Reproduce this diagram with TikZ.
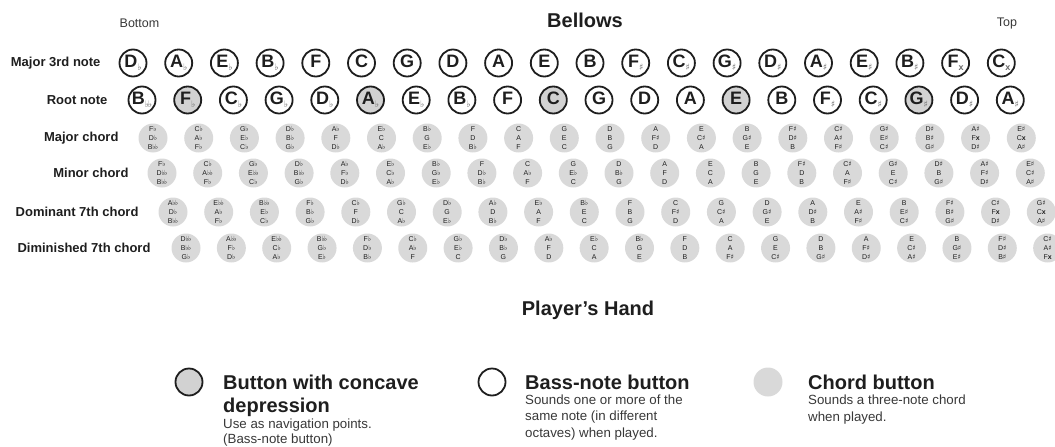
\documentclass[tikz,border=0pt]{standalone}
\usepackage{fontspec}
\setmainfont{Liberation Sans}
\newfontfamily\symf{DejaVu Sans}
\definecolor{ink}{HTML}{1E1E1E}
\definecolor{accgray}{HTML}{6A6A6A}
\definecolor{chordfill}{HTML}{D9D9D9}
\definecolor{concfill}{HTML}{D2D2D2}
\definecolor{desc}{HTML}{383838}
\newcommand\fl{{\symf ♭}}
\newcommand\sh{{\symf ♯}}
\newcommand\dfl{{\symf ♭\kern-0.12em♭}}
\newcommand\dsh{{\bfseries x}}
\newcommand\btnlabel[2]{{\fontsize{18}{18}\selectfont\bfseries #1}\raisebox{-3pt}{\fontsize{9}{9}\selectfont\color{accgray}#2}}
\tikzset{
  bass/.style={circle, draw=ink, line width=1.8pt, minimum size=27pt, inner sep=0pt, text=ink},
  concave/.style={bass, fill=concfill},
  chordbtn/.style={circle, fill=chordfill, minimum size=29pt, inner sep=0pt, align=center,
    font=\fontsize{7}{9.3}\selectfont, text=ink},
  rowlabel/.style={anchor=east, font=\fontsize{13}{13}\selectfont\bfseries, text=ink},
  endlabel/.style={font=\fontsize{12.5}{12.5}\selectfont, text=desc},
  headline/.style={font=\fontsize{20}{20}\selectfont\bfseries, text=ink},
  legtitle/.style={anchor=base west, inner sep=0pt, font=\fontsize{20}{20}\selectfont\bfseries, text=ink},
  legdesc/.style={anchor=base west, inner sep=0pt, font=\fontsize{13.3}{13.3}\selectfont, text=desc}
}
\begin{document}
\begin{tikzpicture}[x=1pt,y=-1pt]
\useasboundingbox (0,0) rectangle (1055,447);
\clip (0,0) rectangle (1055,447);
\def\dx{45.7}
% headers
\node[endlabel] (bottom) at (139.5,23) {Bottom};
\node[headline] (bellows) at (585,20) {Bellows};
\node[endlabel] (top) at (1007,23) {Top};
% row labels
\node[rowlabel] (l1) at (104,63) {Major 3rd note};
\node[rowlabel] (l2) at (111,100) {Root note};
\node[rowlabel] (l3) at (122,138) {Major chord};
\node[rowlabel] (l4) at (132,173) {Minor chord};
\node[rowlabel] (l5) at (142,212) {Dominant 7th chord};
\node[rowlabel] (l6) at (154,248) {Diminished 7th chord};
% major third row
\foreach \L/\A [count=\i from 0] in {D/\fl,A/\fl,E/\fl,B/\fl,F/{},C/{},G/{},D/{},A/{},E/{},B/{},F/\sh,C/\sh,G/\sh,D/\sh,A/\sh,E/\sh,B/\sh,F/\dsh,C/\dsh}
  \node[bass] (m3-\i) at (133+\i*\dx,63) {\btnlabel{\L}{\A}};
% root row
\foreach \L/\A/\S [count=\i from 0] in {B/\dfl/bass,F/\fl/concave,C/\fl/bass,G/\fl/bass,D/\fl/bass,A/\fl/concave,E/\fl/bass,B/\fl/bass,F/{}/bass,C/{}/concave,G/{}/bass,D/{}/bass,A/{}/bass,E/{}/concave,B/{}/bass,F/\sh/bass,C/\sh/bass,G/\sh/concave,D/\sh/bass,A/\sh/bass}
  \node[\S] (rt-\i) at (142+\i*\dx,100) {\btnlabel{\L}{\A}};
% major chords
\foreach \a/\b/\c [count=\i from 0] in {F\fl/D\fl/B\dfl,C\fl/A\fl/F\fl,G\fl/E\fl/C\fl,D\fl/B\fl/G\fl,A\fl/F/D\fl,E\fl/C/A\fl,B\fl/G/E\fl,F/D/B\fl,C/A/F,G/E/C,D/B/G,A/F\sh/D,E/C\sh/A,B/G\sh/E,F\sh/D\sh/B,C\sh/A\sh/F\sh,G\sh/E\sh/C\sh,D\sh/B\sh/G\sh,A\sh/F\dsh/D\sh,E\sh/C\dsh/A\sh}
  \node[chordbtn] (mj-\i) at (153+\i*\dx,138) {\a\\\b\\\c};
% minor chords
\foreach \a/\b/\c [count=\i from 0] in {F\fl/D\dfl/B\dfl,C\fl/A\dfl/F\fl,G\fl/E\dfl/C\fl,D\fl/B\dfl/G\fl,A\fl/F\fl/D\fl,E\fl/C\fl/A\fl,B\fl/G\fl/E\fl,F/D\fl/B\fl,C/A\fl/F,G/E\fl/C,D/B\fl/G,A/F/D,E/C/A,B/G/E,F\sh/D/B,C\sh/A/F\sh,G\sh/E/C\sh,D\sh/B/G\sh,A\sh/F\sh/D\sh,E\sh/C\sh/A\sh}
  \node[chordbtn] (mn-\i) at (162+\i*\dx,173) {\a\\\b\\\c};
% dominant 7th chords
\foreach \a/\b/\c [count=\i from 0] in {A\dfl/D\fl/B\dfl,E\dfl/A\fl/F\fl,B\dfl/E\fl/C\fl,F\fl/B\fl/G\fl,C\fl/F/D\fl,G\fl/C/A\fl,D\fl/G/E\fl,A\fl/D/B\fl,E\fl/A/F,B\fl/E/C,F/B/G,C/F\sh/D,G/C\sh/A,D/G\sh/E,A/D\sh/B,E/A\sh/F\sh,B/E\sh/C\sh,F\sh/B\sh/G\sh,C\sh/F\dsh/D\sh,G\sh/C\dsh/A\sh}
  \node[chordbtn] (d7-\i) at (173+\i*\dx,212) {\a\\\b\\\c};
% diminished 7th chords
\foreach \a/\b/\c [count=\i from 0] in {D\dfl/B\dfl/G\fl,A\dfl/F\fl/D\fl,E\dfl/C\fl/A\fl,B\dfl/G\fl/E\fl,F\fl/D\fl/B\fl,C\fl/A\fl/F,G\fl/E\fl/C,D\fl/B\fl/G,A\fl/F/D,E\fl/C/A,B\fl/G/E,F/D/B,C/A/F\sh,G/E/C\sh,D/B/G\sh,A/F\sh/D\sh,E/C\sh/A\sh,B/G\sh/E\sh,F\sh/D\sh/B\sh,C\sh/A\sh/F\dsh}
  \node[chordbtn] (dm-\i) at (186+\i*45.35,248) {\a\\\b\\\c};
% player's hand
\node[headline] (hand) at (588,310) {Player’s Hand};
% legend
\node[concave] (lg1) at (189,382) {};
\node[legtitle] (lg1t1) at (223,389) {Button with concave};
\node[legtitle] (lg1t2) at (223,412) {depression};
\node[legdesc] (lg1d1) at (223,428) {Use as navigation points.};
\node[legdesc] (lg1d2) at (223,443) {(Bass-note button)};
\node[bass] (lg2) at (492,382) {};
\node[legtitle] (lg2t) at (525,389) {Bass-note button};
\node[legdesc] (lg2d1) at (525,404) {Sounds one or more of the};
\node[legdesc] (lg2d2) at (525,420) {same note (in different};
\node[legdesc] (lg2d3) at (525,437) {octaves) when played.};
\node[chordbtn] (lg3) at (768,382) {};
\node[legtitle] (lg3t) at (808,389) {Chord button};
\node[legdesc] (lg3d1) at (808,404) {Sounds a three-note chord};
\node[legdesc] (lg3d2) at (808,421) {when played.};
\end{tikzpicture}
\end{document}
